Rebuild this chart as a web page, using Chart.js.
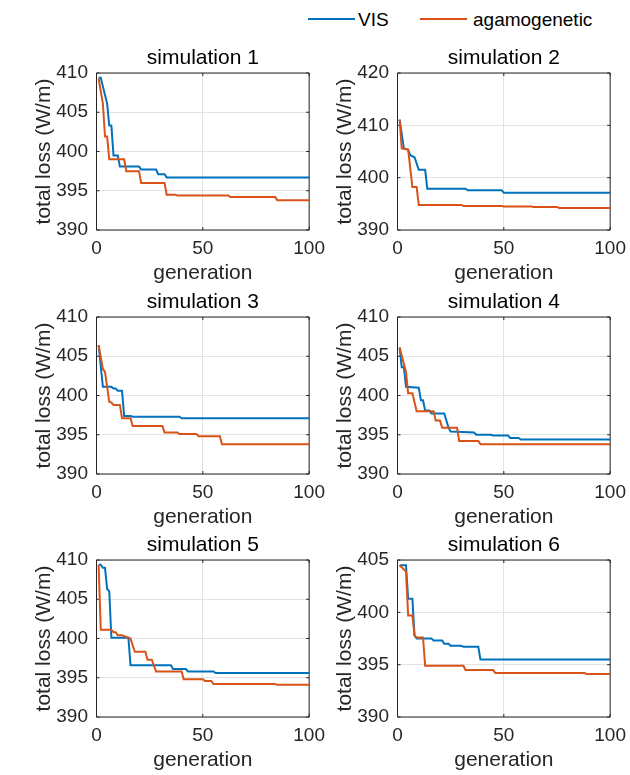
<!DOCTYPE html>
<html>
<head>
<meta charset="utf-8">
<title>total loss vs generation</title>
<script src="https://cdn.jsdelivr.net/npm/chart.js@4.4.1/dist/chart.umd.min.js"></script>
<style>
  html, body { margin: 0; padding: 0; background: #fff; width: 630px; height: 775px; overflow: hidden; }
  .panel { position: absolute; width: 332px; height: 245px; }
  .leg-line { position: absolute; height: 2px; top: 18px; }
  .leg-text { position: absolute; top: 9px; font: 19px "Liberation Sans", Arial, sans-serif; line-height: 22px; color: #000; }
</style>
</head>
<body>

<!-- leyenda común -->
<div class="leg-line" style="left:308px;width:47px;background:#0072BD"></div>
<div class="leg-text" style="left:358px">VIS</div>
<div class="leg-line" style="left:420px;width:47px;background:#D95319"></div>
<div class="leg-text" style="left:473px">agamogenetic</div>

<div class="panel" style="left:0;top:40px"><canvas id="sim1" width="332" height="245"></canvas></div>
<div class="panel" style="left:301px;top:40px"><canvas id="sim2" width="332" height="245"></canvas></div>
<div class="panel" style="left:0;top:284px"><canvas id="sim3" width="332" height="245"></canvas></div>
<div class="panel" style="left:301px;top:284px"><canvas id="sim4" width="332" height="245"></canvas></div>
<div class="panel" style="left:0;top:527px"><canvas id="sim5" width="332" height="245"></canvas></div>
<div class="panel" style="left:301px;top:527px"><canvas id="sim6" width="332" height="245"></canvas></div>

<script>
// Datos: [generación, pérdida total (W/m)]
const simTitles = ['simulation 1', 'simulation 2', 'simulation 3', 'simulation 4', 'simulation 5', 'simulation 6'];
const seriesNames = ['VIS', 'agamogenetic'];
const seriesColors = ['#0072BD', '#D95319'];
const xMin = 0, xMax = 100, xStep = 50;
const yMin = [390, 390, 390, 390, 390, 390];
const yMax = [410, 420, 410, 410, 410, 405];
const yStep = [5, 10, 5, 5, 5, 5];

const sim1Vis = [[1,409.4],[2,409.4],[5,406.1],[6,403.3],[7,403.3],[8,399.5],[10,399.5],[11,398.1],[20,398.1],[21,397.7],[28,397.7],[29,397.1],[32,397.1],[33,396.7],[100,396.7]];
const sim1Aga = [[1,409.3],[3,406.1],[4,401.9],[5,401.9],[6,399.0],[13,399.0],[14,397.5],[20,397.5],[21,396.0],[32,396.0],[33,394.5],[37,394.5],[38,394.4],[62,394.4],[63,394.2],[84,394.2],[85,393.8],[100,393.8]];

const sim2Vis = [[1,411.1],[3,405.6],[5,405.3],[6,404.3],[8,403.9],[10,401.5],[13,401.5],[14,397.9],[32,397.9],[33,397.6],[49,397.6],[50,397.1],[100,397.1]];
const sim2Aga = [[1,411.1],[2,405.6],[5,405.4],[7,398.2],[9,398.2],[10,394.8],[30,394.8],[31,394.6],[49,394.6],[50,394.5],[63,394.5],[64,394.4],[75,394.4],[76,394.2],[100,394.2]];

const sim3Vis = [[1,406.4],[3,401.1],[7,401.1],[8,400.9],[9,400.9],[10,400.6],[12,400.6],[13,397.4],[16,397.4],[17,397.3],[39,397.3],[40,397.1],[100,397.1]];
const sim3Aga = [[1,406.4],[3,403.4],[4,403.0],[6,399.2],[7,399.1],[8,398.8],[11,398.8],[12,397.1],[16,397.1],[17,396.1],[31,396.1],[32,395.3],[38,395.3],[39,395.1],[47,395.1],[48,394.8],[58,394.8],[59,393.8],[100,393.8]];

const sim4Vis = [[1,406.1],[2,403.6],[3,403.6],[4,401.1],[10,401.0],[11,399.4],[12,399.4],[13,398.1],[15,398.1],[16,397.7],[22,397.7],[24,395.9],[25,395.4],[36,395.3],[37,395.0],[44,395.0],[45,394.9],[52,394.9],[53,394.6],[57,394.6],[58,394.4],[100,394.4]];
const sim4Aga = [[1,406.1],[4,403.0],[5,400.3],[7,400.3],[9,398.0],[17,398.0],[18,396.8],[20,396.8],[21,395.9],[28,395.9],[29,394.2],[38,394.2],[39,393.8],[100,393.8]];

const sim5Vis = [[1,409.4],[2,409.4],[3,409.0],[4,409.0],[5,406.3],[6,406.0],[7,400.1],[15,400.1],[16,396.6],[35,396.6],[36,396.1],[42,396.1],[43,395.8],[55,395.8],[56,395.6],[100,395.6]];
const sim5Aga = [[1,409.4],[2,401.1],[7,401.1],[8,400.8],[9,400.8],[10,400.4],[12,400.4],[14,400.2],[16,400.0],[18,398.3],[23,398.3],[24,397.3],[26,397.3],[28,395.8],[40,395.8],[41,394.8],[50,394.8],[51,394.6],[54,394.6],[55,394.2],[84,394.2],[85,394.1],[100,394.1]];

const sim6Vis = [[1,404.5],[4,404.5],[5,401.3],[7,401.3],[8,397.8],[9,397.5],[16,397.5],[17,397.3],[21,397.3],[22,397.0],[24,397.0],[25,396.8],[30,396.8],[31,396.7],[38,396.7],[39,395.5],[100,395.5]];
const sim6Aga = [[1,404.5],[4,403.9],[5,399.7],[7,399.7],[8,397.8],[9,397.6],[12,397.6],[13,394.9],[31,394.9],[32,394.5],[45,394.5],[46,394.2],[88,394.2],[89,394.1],[100,394.1]];

const visSeries = [sim1Vis, sim2Vis, sim3Vis, sim4Vis, sim5Vis, sim6Vis];
const agaSeries = [sim1Aga, sim2Aga, sim3Aga, sim4Aga, sim5Aga, sim6Aga];

const fuente = '"Liberation Sans", Arial, sans-serif';
Chart.defaults.font.family = fuente;

// caja de ejes con marcas hacia adentro (estilo MATLAB)
const marcoEjes = {
    id: 'marcoEjes',
    beforeDatasetsDraw(chart) {
        const { ctx, chartArea: a, scales } = chart;
        const largo = 3;
        ctx.save();
        ctx.strokeStyle = '#262626';
        ctx.lineWidth = 1;
        ctx.beginPath();
        scales.x.ticks.forEach(t => {
            const px = scales.x.getPixelForValue(t.value);
            ctx.moveTo(px, a.bottom); ctx.lineTo(px, a.bottom - largo);
            ctx.moveTo(px, a.top); ctx.lineTo(px, a.top + largo);
        });
        scales.y.ticks.forEach(t => {
            const py = scales.y.getPixelForValue(t.value);
            ctx.moveTo(a.left, py); ctx.lineTo(a.left + largo, py);
            ctx.moveTo(a.right, py); ctx.lineTo(a.right - largo, py);
        });
        ctx.rect(a.left, a.top, a.right - a.left, a.bottom - a.top);
        ctx.stroke();
        ctx.restore();
    }
};

function crearPanel(i) {
    const ctx = document.getElementById('sim' + (i + 1)).getContext('2d');
    return new Chart(ctx, {
        type: 'line',
        data: {
            datasets: [
                { label: seriesNames[0], data: visSeries[i], borderColor: seriesColors[0], borderWidth: 2, pointRadius: 0, fill: false, tension: 0, order: 2 },
                { label: seriesNames[1], data: agaSeries[i], borderColor: seriesColors[1], borderWidth: 2, pointRadius: 0, fill: false, tension: 0, order: 1 }
            ]
        },
        options: {
            responsive: false,
            animation: false,
            events: [],
            layout: { autoPadding: false, padding: { left: 0, right: 19, top: 0, bottom: 0 } },
            plugins: {
                legend: { display: false },
                tooltip: { enabled: false },
                title: {
                    display: true,
                    text: simTitles[i],
                    fullSize: false,
                    color: '#000',
                    font: { size: 21, weight: 'normal' },
                    padding: { top: 5.4, bottom: 2.4 }
                }
            },
            scales: {
                x: {
                    type: 'linear',
                    min: xMin,
                    max: xMax,
                    afterFit: s => { s.height = 55; },
                    ticks: { stepSize: xStep, color: '#262626', font: { size: 19 }, padding: 7, maxRotation: 0 },
                    grid: { color: '#e3e3e3', drawTicks: false },
                    border: { display: false },
                    title: { display: true, text: 'generation', color: '#262626', font: { size: 21 }, padding: { top: 0, bottom: -1 } }
                },
                y: {
                    min: yMin[i],
                    max: yMax[i],
                    afterFit: s => { s.width = 96.5; },
                    ticks: { stepSize: yStep[i], color: '#262626', font: { size: 19 }, padding: 8.5 },
                    grid: { color: '#e3e3e3', drawTicks: false },
                    border: { display: false },
                    title: { display: true, text: 'total loss (W/m)', color: '#262626', font: { size: 21 }, padding: { top: 32, bottom: 0 } }
                }
            }
        },
        plugins: [marcoEjes]
    });
}

document.addEventListener('DOMContentLoaded', function () {
    simTitles.forEach((_, i) => crearPanel(i));
});
</script>
</body>
</html>
